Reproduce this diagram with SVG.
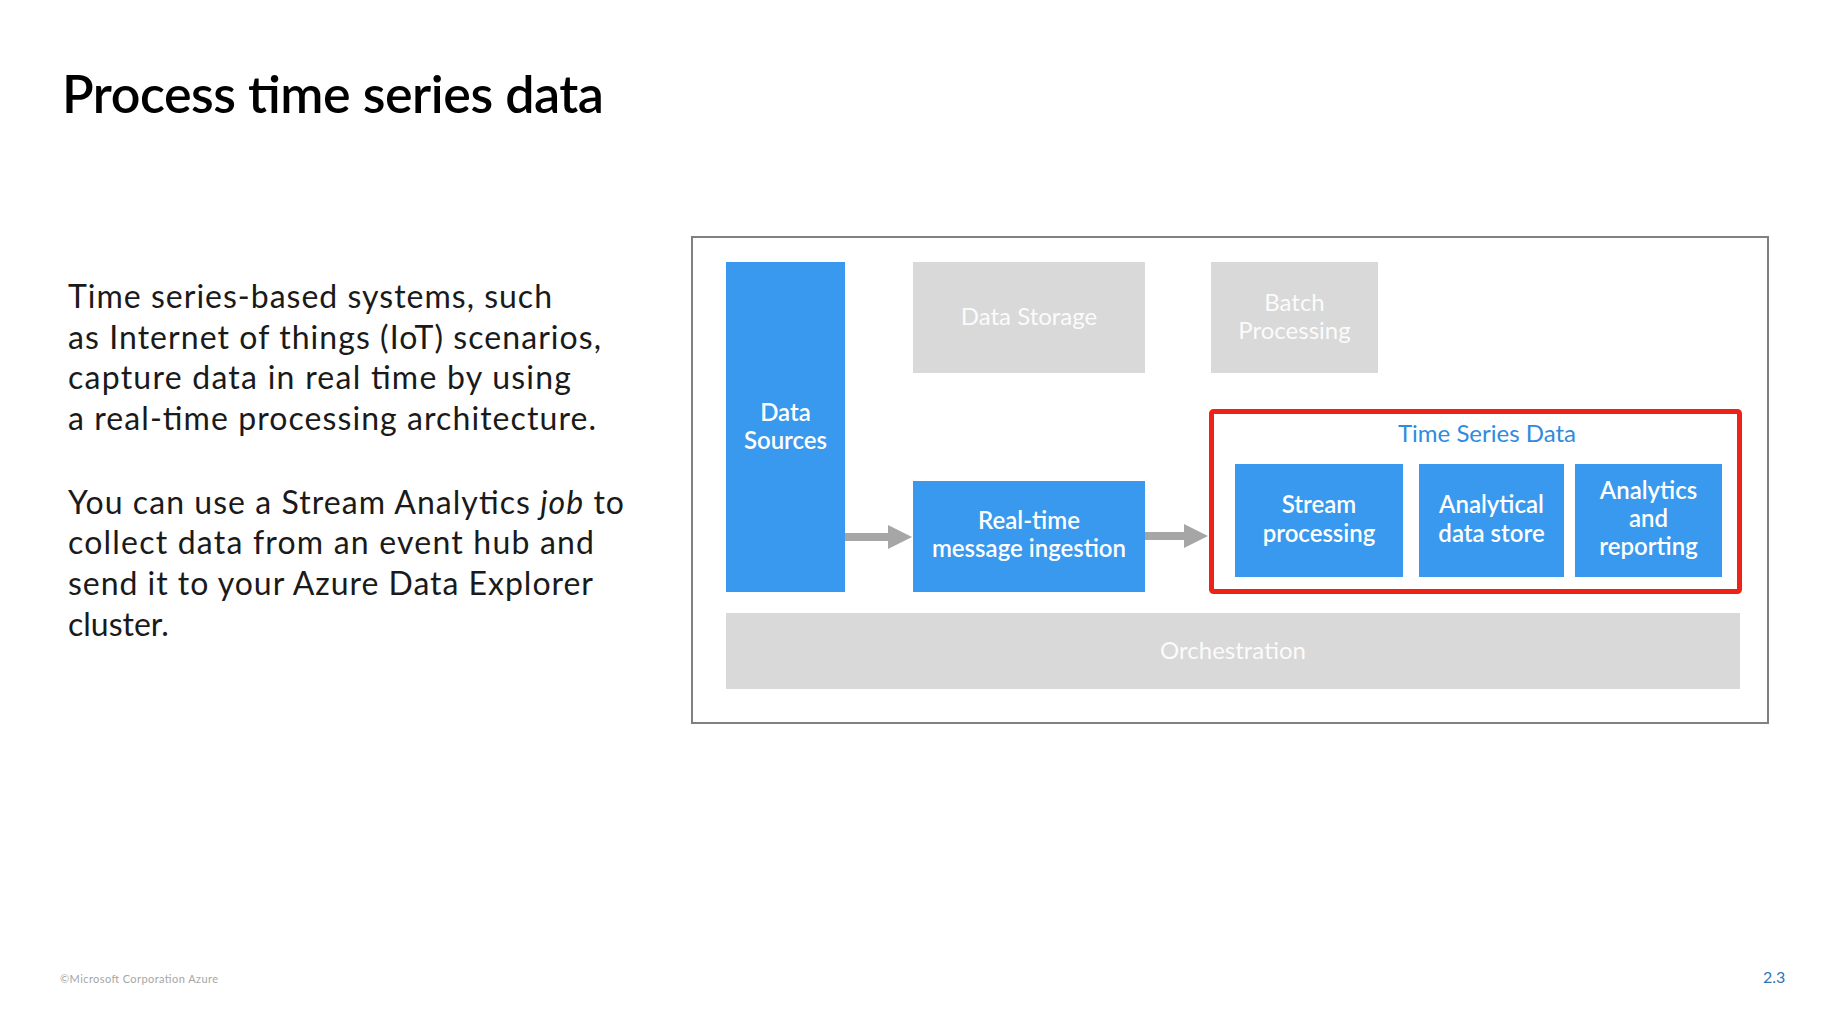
<svg xmlns="http://www.w3.org/2000/svg" width="1822" height="1023" viewBox="0 0 1822 1023">
<defs>
<style>
text{font-family:"Segoe UI",Lato,"Noto Sans","Liberation Sans",sans-serif}
.title{font-size:52px;font-weight:600;fill:#000}
.body{font-size:32px;fill:#1a1a1a}
.blue{fill:#3899EE}
.gray{fill:#D9D9D9}
.bl{font-size:24px;font-weight:600;fill:#fff;text-anchor:middle}
.gl{font-size:24px;fill:#fff;fill-opacity:0.92;text-anchor:middle}
.conn{stroke:#A6A6A6;stroke-width:8;fill:none}
</style>
<marker id="ah" viewBox="0 0 24 24" markerWidth="24" markerHeight="24" refX="4" refY="12" markerUnits="userSpaceOnUse" orient="auto">
<path d="M0,0 L24,12 L0,24 z" fill="#A6A6A6"/>
</marker>
</defs>
<rect width="1822" height="1023" fill="#fff"/>
<text class="title" x="62" y="113" textLength="542" lengthAdjust="spacing">Process time series data</text>
<g id="body-text" class="body">
<text x="68" y="308" class="body" textLength="484" lengthAdjust="spacing">Time series-based systems, such</text>
<text x="68" y="349" class="body" textLength="533" lengthAdjust="spacing">as Internet of things (IoT) scenarios,</text>
<text x="68" y="389" class="body" textLength="503" lengthAdjust="spacing">capture data in real time by using</text>
<text x="68" y="430" class="body" textLength="528" lengthAdjust="spacing">a real-time processing architecture.</text>
<text x="68" y="514" class="body" textLength="556" lengthAdjust="spacing">You can use a Stream Analytics <tspan font-style="italic">job</tspan> to</text>
<text x="68" y="554" class="body" textLength="526" lengthAdjust="spacing">collect data from an event hub and</text>
<text x="68" y="595" class="body" textLength="525" lengthAdjust="spacing">send it to your Azure Data Explorer</text>
<text x="68" y="636" class="body">cluster.</text>
</g>
<g id="frame">
<rect x="692" y="237" width="1076" height="486" fill="#fff" stroke="#808080" stroke-width="2"/>
</g>
<g id="data-sources">
<rect class="blue" x="726" y="262" width="119" height="330"/>
<text class="bl" x="785.5" y="421">Data</text>
<text class="bl" x="785.5" y="449">Sources</text>
</g>
<g id="data-storage">
<rect class="gray" x="913" y="262" width="232" height="111"/>
<text class="gl" x="1029" y="325">Data Storage</text>
</g>
<g id="batch-processing">
<rect class="gray" x="1211" y="262" width="167" height="111"/>
<text class="gl" x="1294.5" y="311">Batch</text>
<text class="gl" x="1294.5" y="339">Processing</text>
</g>
<g id="realtime-ingestion">
<rect class="blue" x="913" y="481" width="232" height="111"/>
<text class="bl" x="1029" y="529">Real-time</text>
<text class="bl" x="1029" y="557">message ingestion</text>
</g>
<g id="time-series-data">
<rect x="1211.5" y="411.5" width="528" height="180" fill="#fff" stroke="#EE2219" stroke-width="5" rx="2"/>
<text x="1487" y="442" font-size="24" fill="#2E8BE0" text-anchor="middle">Time Series Data</text>
</g>
<g id="stream-processing">
<rect class="blue" x="1235" y="464" width="168" height="113"/>
<text class="bl" x="1319" y="513">Stream</text>
<text class="bl" x="1319" y="542">processing</text>
</g>
<g id="analytical-data-store">
<rect class="blue" x="1419" y="464" width="145" height="113"/>
<text class="bl" x="1491.5" y="513">Analytical</text>
<text class="bl" x="1491.5" y="542">data store</text>
</g>
<g id="analytics-reporting">
<rect class="blue" x="1575" y="464" width="147" height="113"/>
<text class="bl" x="1648.5" y="499">Analytics</text>
<text class="bl" x="1648.5" y="527">and</text>
<text class="bl" x="1648.5" y="555">reporting</text>
</g>
<g id="orchestration">
<rect class="gray" x="726" y="613" width="1014" height="76"/>
<text class="gl" x="1233" y="659">Orchestration</text>
</g>
<g id="connectors">
<line class="conn" x1="845" y1="537" x2="892" y2="537" marker-end="url(#ah)"/>
<line class="conn" x1="1145" y1="536" x2="1188" y2="536" marker-end="url(#ah)"/>
</g>
<text x="60" y="983" font-size="11" fill="#A6A6A6" textLength="158" lengthAdjust="spacing">©Microsoft Corporation Azure</text>
<text x="1763" y="983" font-size="16" fill="#2E75B6">2.3</text>
</svg>
